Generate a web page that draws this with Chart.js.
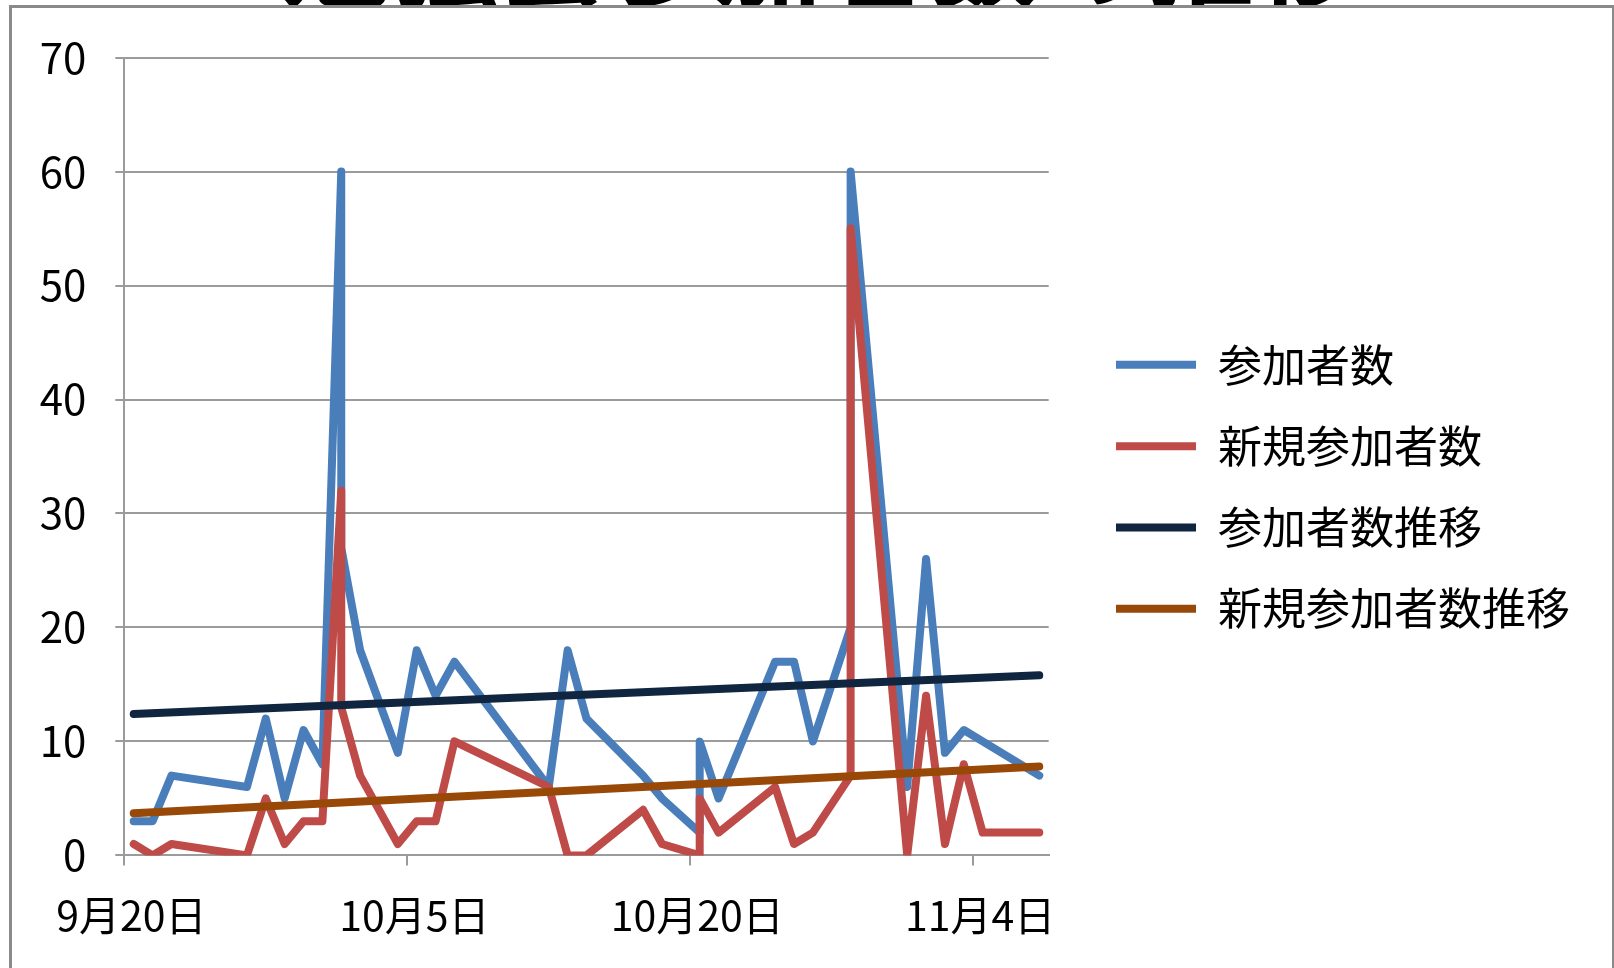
<!DOCTYPE html>
<html lang="ja">
<head>
<meta charset="utf-8">
<title>参加者数の推移</title>
<script src="https://cdn.jsdelivr.net/npm/chart.js@4.4.1/dist/chart.umd.min.js"></script>
<style>
  html, body { margin: 0; padding: 0; background: #fff; overflow: hidden; }
  body { width: 1614px; height: 968px; position: relative; font-family: "Noto Sans CJK JP", sans-serif; }
  /* タイトルは枠の上にわずかに見えるだけ */
  #title { position: absolute; left: 282px; top: -102px; font-size: 108px; line-height: 1; font-weight: bold; color: #000; white-space: nowrap; z-index: 0; }
  #frame { position: absolute; left: 9px; top: 5px; width: 1600px; height: 1000px; border: 3px solid #8a8a8a; background: #fff; z-index: 1; }
  #chart { position: absolute; left: 0; top: 0; z-index: 2; }
</style>
</head>
<body>
<div id="title">勉強会参加者数の推移</div>
<div id="frame"></div>
<canvas id="chart" width="1614" height="968"></canvas>
<script>
// 1. データ (同じ日付が2回ある日は2行あるもの)
const dates = ['9/20', '9/21', '9/22', '9/26', '9/27', '9/28', '9/29', '9/30', '10/1', '10/1',
               '10/2', '10/4', '10/5', '10/6', '10/7', '10/12', '10/13', '10/14', '10/17', '10/18',
               '10/20', '10/20', '10/21', '10/24', '10/25', '10/26', '10/28', '10/28', '10/31', '11/1',
               '11/2', '11/3', '11/4', '11/7'];
const attendees = [3, 3, 7, 6, 12, 5, 11, 8, 60, 27,
                   18, 9, 18, 14, 17, 6, 18, 12, 7, 5,
                   2, 10, 5, 17, 17, 10, 20, 60, 6, 26,
                   9, 11, 10, 7];
const newcomers = [1, 0, 1, 0, 5, 1, 3, 3, 32, 13,
                   7, 1, 3, 3, 10, 6, 0, 0, 4, 1,
                   0, 5, 2, 6, 1, 2, 7, 55, 0, 14,
                   1, 8, 2, 2];

// 近似直線 (始点と終点の値)
const trendDates = ['9/20', '11/7'];
const attendeesTrend = [12.4, 15.8];
const newcomersTrend = [3.7, 7.8];

const seriesNames = ['参加者数', '新規参加者数', '参加者数推移', '新規参加者数推移'];
const axisRange = ['9/20', '11/8'];
const tickDates = ['9/20', '10/5', '10/20', '11/4'];
const tickLabels = ['9月20日', '10月5日', '10月20日', '11月4日'];
const yTicks = [0, 10, 20, 30, 40, 50, 60, 70];

// 2. 見た目
const FONT = "'Noto Sans CJK JP', 'Noto Sans', sans-serif";
const GRID = '#9b9b9b';
const LEGEND_X = 1116;
const LEGEND_DY = -26;

// 9/20 からの日数
function dayOf(md) {
    const [m, d] = md.split('/').map(Number);
    return (Date.UTC(2012, m - 1, d) - Date.UTC(2012, 8, 20)) / 86400000;
}

// 日付軸では点は日の中央に置かれる
function toPoints(ds, vals) {
    return ds.map((d, i) => ({ x: dayOf(d) + 0.5, y: vals[i] }));
}

function lineSet(label, ds, vals, color, order) {
    return {
        label: label,
        data: toPoints(ds, vals),
        borderColor: color,
        backgroundColor: color,
        borderWidth: 8,
        borderCapStyle: 'round',
        borderJoinStyle: 'round',
        pointRadius: 0,
        pointHoverRadius: 0,
        tension: 0,
        fill: false,
        order: order
    };
}

// 凡例の位置を合わせる
const legendNudge = {
    id: 'legendNudge',
    afterLayout(chart) {
        const lg = chart.legend;
        if (!lg) return;
        const dx = LEGEND_X - (lg.left + lg.options.labels.padding);
        lg.left += dx;
        lg.right += dx;
        lg.top += LEGEND_DY;
        lg.bottom += LEGEND_DY;
    }
};

Chart.defaults.font.family = FONT;
Chart.defaults.color = '#000';

new Chart(document.getElementById('chart'), {
    type: 'line',
    data: {
        datasets: [
            lineSet(seriesNames[0], dates, attendees, '#4a7ebb', 4),
            lineSet(seriesNames[1], dates, newcomers, '#be4b48', 3),
            lineSet(seriesNames[2], trendDates, attendeesTrend, '#10253f', 2),
            lineSet(seriesNames[3], trendDates, newcomersTrend, '#984807', 1)
        ]
    },
    options: {
        responsive: false,
        animation: false,
        events: [],
        layout: { padding: { top: 57.6, left: 0, right: 64, bottom: 0 } },
        scales: {
            x: {
                type: 'linear',
                min: dayOf(axisRange[0]),
                max: dayOf(axisRange[1]),
                afterBuildTicks: (scale) => { scale.ticks = tickDates.map(d => ({ value: dayOf(d) })); },
                afterFit: (scale) => { scale.height = 112.6; },
                ticks: {
                    autoSkip: false,
                    maxRotation: 0,
                    padding: 25,
                    labelOffset: 7,
                    font: { size: 41 },
                    color: '#000',
                    callback: (v, i) => tickLabels[i]
                },
                grid: { drawOnChartArea: false, drawTicks: true, tickLength: 10, color: GRID, lineWidth: 2 },
                border: { color: GRID, width: 2 }
            },
            y: {
                min: yTicks[0],
                max: yTicks[yTicks.length - 1],
                afterBuildTicks: (scale) => { scale.ticks = yTicks.map(v => ({ value: v })); },
                afterFit: (scale) => { scale.width = 124.3; },
                ticks: { padding: 29, font: { size: 42 }, color: '#000' },
                grid: { color: GRID, lineWidth: 2, tickLength: 9 },
                border: { color: GRID, width: 2 }
            }
        },
        plugins: {
            title: { display: false },
            tooltip: { enabled: false },
            legend: {
                position: 'right',
                align: 'center',
                maxWidth: 700,
                labels: {
                    usePointStyle: true,
                    pointStyle: 'line',
                    pointStyleWidth: 80,
                    padding: 37.3,
                    color: '#000',
                    font: { size: 44 },
                    sort: (a, b) => a.datasetIndex - b.datasetIndex
                }
            }
        }
    },
    plugins: [legendNudge]
});
</script>
</body>
</html>
